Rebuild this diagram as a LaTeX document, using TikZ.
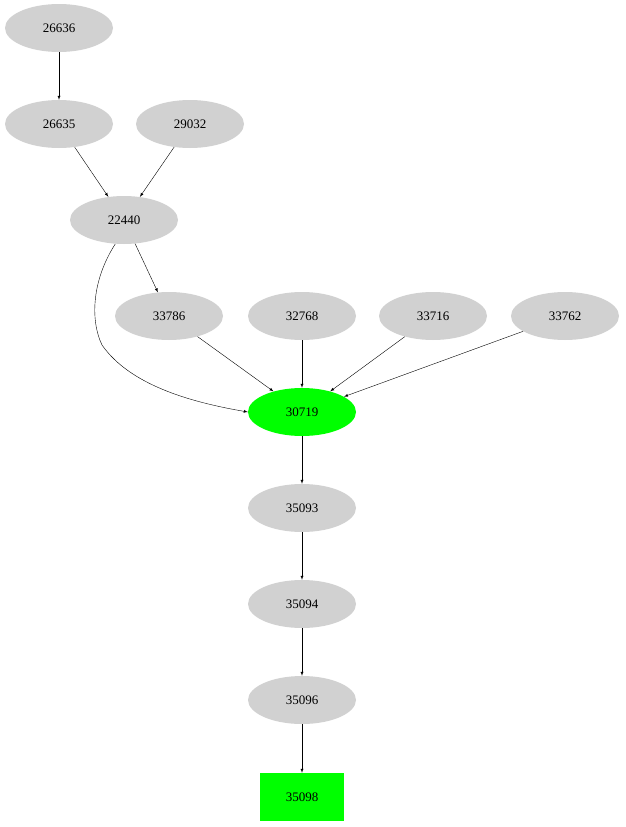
\documentclass[tikz,border=0pt]{standalone}
\usepackage{fontspec}
\setmainfont{Liberation Serif}
\usetikzlibrary{shapes.geometric}
\begin{document}
\begin{tikzpicture}[x=1pt, y=-1pt, >=latex,
    gnode/.style={ellipse, fill=black!18, minimum width=108pt, minimum height=48pt, inner sep=0pt, font=\fontsize{13}{15}\selectfont},
    hnode/.style={gnode, fill=green},
    hbox/.style={rectangle, fill=green, minimum width=84pt, minimum height=48pt, inner sep=0pt, font=\fontsize{13}{15}\selectfont},
    edge/.style={->, thin}]
        \useasboundingbox (0,0) rectangle (625,827);

        \node [gnode] (n26636) at (59,28) {26636};
        \node [gnode] (n26635) at (59,124) {26635};
        \node [gnode] (n29032) at (190,124) {29032};
        \node [gnode] (n22440) at (124,220) {22440};
        \node [gnode] (n33786) at (169,316) {33786};
        \node [gnode] (n32768) at (302,316) {32768};
        \node [gnode] (n33716) at (433,316) {33716};
        \node [gnode] (n33762) at (565,316) {33762};
        \node [hnode] (n30719) at (302,412) {30719};
        \node [gnode] (n35093) at (302,508) {35093};
        \node [gnode] (n35094) at (302,604) {35094};
        \node [gnode] (n35096) at (302,700) {35096};
        \node [hbox]  (n35098) at (302,797) {35098};

        \draw [edge] (n26636) -- (n26635);
        \draw [edge] (n26635) -- (n22440);
        \draw [edge] (n29032) -- (n22440);
        \draw [edge] (n22440) -- (n33786);
        \draw [edge] (n22440.250) .. controls (92,280) and (90,320) .. (102,345)
            .. controls (130,385) and (190,402) .. (n30719.west);
        \draw [edge] (n33786) -- (n30719);
        \draw [edge] (n32768) -- (n30719);
        \draw [edge] (n33716) -- (n30719);
        \draw [edge] (n33762) -- (n30719);
        \draw [edge] (n30719) -- (n35093);
        \draw [edge] (n35093) -- (n35094);
        \draw [edge] (n35094) -- (n35096);
        \draw [edge] (n35096) -- (n35098);
\end{tikzpicture}
\end{document}
